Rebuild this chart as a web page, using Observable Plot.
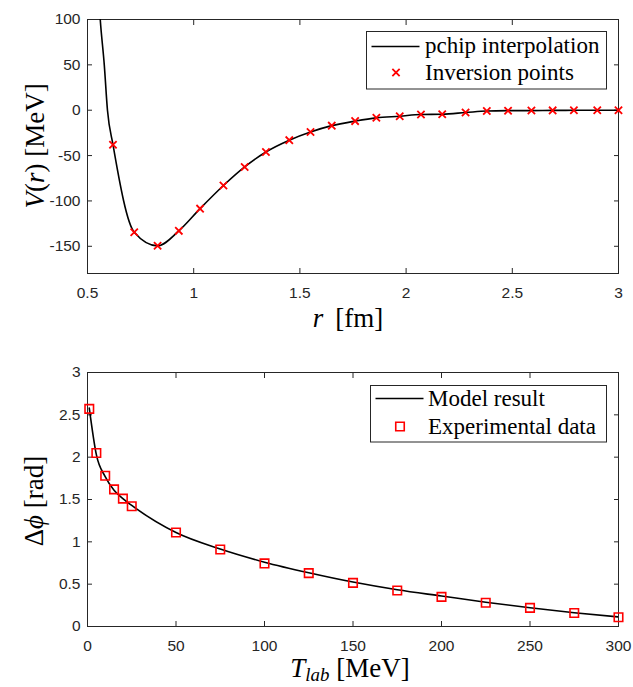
<!DOCTYPE html>
<html><head><meta charset="utf-8">
<script src="https://cdn.jsdelivr.net/npm/d3@7"></script>
<script src="https://cdn.jsdelivr.net/npm/@observablehq/plot@0.6"></script>
<style>
body{margin:0;background:#fff;}
#chart{width:633px;}
#chart svg{display:block;}
</style></head><body><div id="chart"></div>
<script>
// ---- Top panel data: inversion points (r in fm, V in MeV)
const invR = [0.62,0.72,0.83,0.93,1.03,1.14,1.24,1.34,1.45,1.55,1.65,1.76,1.86,1.97,2.07,2.17,2.28,2.38,2.48,2.59,2.69,2.79,2.90,3.00];
const invV = [-38,-134.5,-149.5,-133,-108.5,-83,-62.5,-46,-33,-24,-17,-12,-8.4,-6.6,-4.8,-4.4,-2.6,-0.9,-0.5,-0.4,-0.2,-0.1,0,0];
// steep repulsive core of the pchip curve (above the first point)
const coreR = [0.53,0.56,0.579,0.594];
const coreV = [230,100,50,0];
const rTicks = [0.5,1,1.5,2,2.5,3];
const vTicks = [-150,-100,-50,0,50,100];

// ---- Bottom panel data
const tLab = [1,5,10,15,20,25,50,75,100,125,150,175,200,225,250,275,300];
const phiExp = [2.57,2.05,1.78,1.62,1.51,1.42,1.11,0.91,0.745,0.63,0.515,0.425,0.35,0.28,0.22,0.16,0.11];
const modelT = [1,5,10,15,20,25,50,75,100,125,150,175,200,225,250,275,300];
const modelPhi = [2.58,2.03,1.77,1.61,1.51,1.43,1.11,0.915,0.76,0.635,0.525,0.434,0.36,0.287,0.222,0.163,0.113];
const tTicks = [0,50,100,150,200,250,300];
const phiTicks = [0,0.5,1,1.5,2,2.5,3];

const RED = "#ff0000";
const AX = "#262626";
const SANS = "'Liberation Sans', Arial, sans-serif";
const SERIF = "'Liberation Serif', 'Times New Roman', serif";

const inv = invR.map((r,i)=>({r, v: invV[i]}));
const curve = coreR.map((r,i)=>({r, v: coreV[i]})).concat(inv);
const exp = tLab.map((t,i)=>({t, p: phiExp[i]}));
const model = modelT.map((t,i)=>({t, p: modelPhi[i]}));

function axes(xt, yt){
  const fmt = d => String(d);
  return [
    Plot.frame({stroke: AX, strokeWidth: 1}),
    Plot.axisX({ticks: xt, tickSize: -5, tickPadding: 18, tickFormat: fmt, fontSize: 15.5, label: null, stroke: AX}),
    Plot.axisX({ticks: xt, anchor: "top", tickSize: -5, tickFormat: () => "", label: null, stroke: AX}),
    Plot.axisY({ticks: yt, tickSize: -5, tickPadding: 12, tickFormat: fmt, fontSize: 15.5, label: null, stroke: AX}),
    Plot.axisY({ticks: yt, anchor: "right", tickSize: -5, tickFormat: () => "", label: null, stroke: AX})
  ];
}

const topSvg = Plot.plot({
  width: 633, height: 343,
  marginTop: 19, marginBottom: 70, marginLeft: 87, marginRight: 15,
  style: {fontFamily: SANS, fontSize: "15.5px", color: AX, background: "white"},
  x: {domain: [0.5, 3], label: null},
  y: {domain: [-180, 100], label: null},
  marks: [
    ...axes(rTicks, vTicks),
    Plot.line(curve, {x: "r", y: "v", curve: "monotone-x", stroke: "black", strokeWidth: 1.6, clip: true}),
    Plot.dot(inv, {x: "r", y: "v", symbol: "times", r: 3.4, stroke: RED, strokeWidth: 1.8})
  ]
});

const botSvg = Plot.plot({
  width: 633, height: 344,
  marginTop: 29, marginBottom: 61, marginLeft: 87, marginRight: 15,
  style: {fontFamily: SANS, fontSize: "15.5px", color: AX, background: "white"},
  x: {domain: [0, 300], label: null},
  y: {domain: [0, 3], label: null},
  marks: [
    ...axes(tTicks, phiTicks),
    Plot.line(model, {x: "t", y: "p", curve: "monotone-x", stroke: "black", strokeWidth: 1.6, clip: true}),
    Plot.dot(exp, {x: "t", y: "p", symbol: "square", r: 4.8, stroke: RED, strokeWidth: 1.6, fill: "none"})
  ]
});

const chart = document.getElementById("chart");
chart.appendChild(topSvg);
chart.appendChild(botSvg);

function label(svg, x, y, rotate, parts, size){
  const t = d3.select(svg).append("text")
    .attr("transform", `translate(${x},${y}) rotate(${rotate})`)
    .attr("text-anchor", "middle")
    .attr("font-family", SERIF)
    .attr("font-size", size)
    .attr("fill", "black");
  for (const p of parts){
    const s = t.append("tspan").text(p.t);
    if (p.i) s.attr("font-style", "italic");
    if (p.sub) s.attr("font-size", size*0.7).attr("baseline-shift", "-22%");
  }
  return t;
}

function legend(svg, box, rows){
  const g = d3.select(svg).append("g");
  g.append("rect").attr("x", box.x).attr("y", box.y).attr("width", box.w).attr("height", box.h)
    .attr("fill", "white").attr("stroke", AX).attr("stroke-width", 1);
  for (const r of rows){
    if (r.kind === "line"){
      g.append("line").attr("x1", box.x + 5).attr("x2", box.x + 53).attr("y1", r.cy).attr("y2", r.cy)
        .attr("stroke", "black").attr("stroke-width", 1.6);
    } else {
      const sym = r.kind === "times" ? d3.symbolTimes : d3.symbolSquare;
      const rr = r.kind === "times" ? 3.4 : 4.8;
      g.append("path").attr("d", d3.symbol(sym, rr*rr*Math.PI)())
        .attr("transform", `translate(${box.x + 29.5},${r.cy})`)
        .attr("fill", "none").attr("stroke", RED).attr("stroke-width", r.kind === "times" ? 1.8 : 1.6);
    }
    g.append("text").attr("x", r.tx).attr("y", r.by).attr("text-anchor", "start")
      .attr("font-family", SERIF).attr("font-size", 23)
      .attr("fill", "black").text(r.text);
  }
}

// Top panel labels
label(topSvg, 44, 146, -90, [{t:"V", i:true},{t:"("},{t:"r", i:true},{t:") [MeV]"}], 27);
label(topSvg, 348, 327, 0, [{t:"r", i:true},{t:"\u2009 [fm]"}], 27);
legend(topSvg, {x: 366.5, y: 31.5, w: 240, h: 57.5}, [
  {kind:"line", cy: 46.5, tx: 425, by: 53, text: "pchip interpolation"},
  {kind:"times", cy: 72.5, tx: 425, by: 79.5, text: "Inversion points"}
]);

// Bottom panel labels (svg offset 343)
label(botSvg, 43, 158, -90, [{t:"Δ"},{t:"ϕ", i:true},{t:" [rad]"}], 27);
label(botSvg, 350, 334, 0, [{t:"T", i:true},{t:"lab", i:true, sub:true},{t:" [MeV]"}], 27);
legend(botSvg, {x: 370.5, y: 42.5, w: 236, h: 56.5}, [
  {kind:"line", cy: 55.5, tx: 428, by: 62.5, text: "Model result"},
  {kind:"square", cy: 83.5, tx: 428, by: 90.5, text: "Experimental data"}
]);
</script>
</body></html>
